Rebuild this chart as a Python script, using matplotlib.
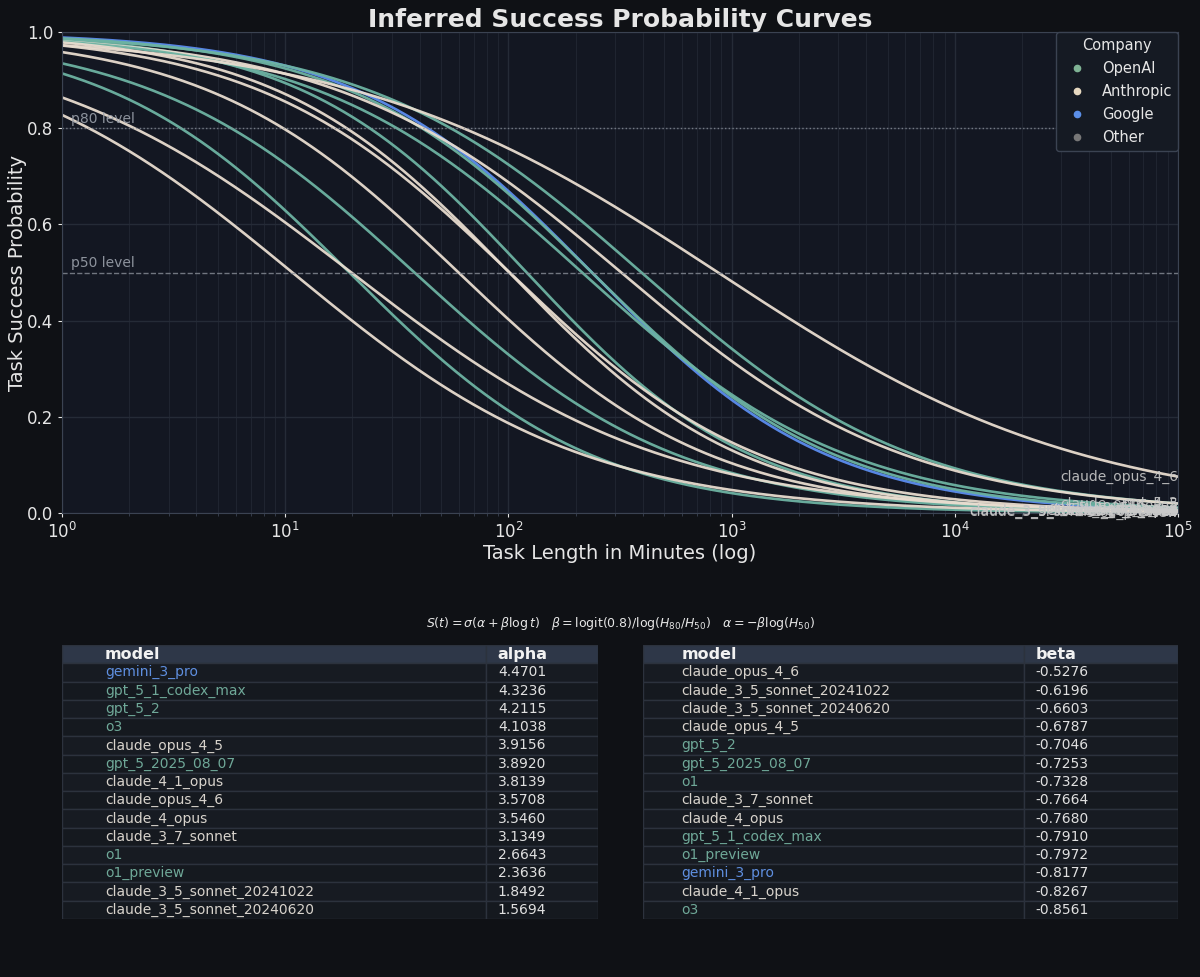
import numpy as np
import matplotlib
matplotlib.use("Agg")
import matplotlib.pyplot as plt
from matplotlib.patches import Rectangle
from matplotlib.lines import Line2D

# ---------------- data ----------------
models = ["gemini_3_pro", "gpt_5_1_codex_max", "gpt_5_2", "o3", "claude_opus_4_5",
          "gpt_5_2025_08_07", "claude_4_1_opus", "claude_opus_4_6", "claude_4_opus",
          "claude_3_7_sonnet", "o1", "o1_preview", "claude_3_5_sonnet_20241022",
          "claude_3_5_sonnet_20240620"]
alpha = [4.4701, 4.3236, 4.2115, 4.1038, 3.9156, 3.8920, 3.8139, 3.5708, 3.5460,
         3.1349, 2.6643, 2.3636, 1.8492, 1.5694]
beta_models = ["claude_opus_4_6", "claude_3_5_sonnet_20241022", "claude_3_5_sonnet_20240620",
               "claude_opus_4_5", "gpt_5_2", "gpt_5_2025_08_07", "o1", "claude_3_7_sonnet",
               "claude_4_opus", "gpt_5_1_codex_max", "o1_preview", "gemini_3_pro",
               "claude_4_1_opus", "o3"]
beta_vals = [-0.5276, -0.6196, -0.6603, -0.6787, -0.7046, -0.7253, -0.7328, -0.7664,
             -0.7680, -0.7910, -0.7972, -0.8177, -0.8267, -0.8561]
companies = {"gemini_3_pro": "Google", "gpt_5_1_codex_max": "OpenAI", "gpt_5_2": "OpenAI",
             "o3": "OpenAI", "claude_opus_4_5": "Anthropic", "gpt_5_2025_08_07": "OpenAI",
             "claude_4_1_opus": "Anthropic", "claude_opus_4_6": "Anthropic",
             "claude_4_opus": "Anthropic", "claude_3_7_sonnet": "Anthropic", "o1": "OpenAI",
             "o1_preview": "OpenAI", "claude_3_5_sonnet_20241022": "Anthropic",
             "claude_3_5_sonnet_20240620": "Anthropic"}
legend_names = ["OpenAI", "Anthropic", "Google", "Other"]

# ---------------- styles ----------------
line_colors = {"OpenAI": "#6db3a3", "Anthropic": "#e8dccf", "Google": "#5b8def", "Other": "#7f7f7f"}
marker_colors = {"OpenAI": "#7fb394", "Anthropic": "#e6d8c0", "Google": "#5b8fe8", "Other": "#777777"}
text_colors = {"OpenAI": "#6fa898", "Anthropic": "#d8d3cc", "Google": "#5f8fe0", "Other": "#999999"}

FIG_BG = "#0f1115"
AX_BG = "#131722"
GRID = "#252b37"
SPINE = "#3b4352"
TXT = "#e6e6e6"

beta = dict(zip(beta_models, beta_vals))

fig = plt.figure(figsize=(12, 9.77), dpi=100, facecolor=FIG_BG)
ax = fig.add_axes([0.0517, 0.4749, 0.93, 0.4923], facecolor=AX_BG)

t = np.logspace(0, 5, 500)
for m, a in zip(models, alpha):
    b = beta[m]
    s = 1.0 / (1.0 + np.exp(-(a + b * np.log(t))))
    ax.plot(t, s, color=line_colors[companies[m]], lw=1.9, alpha=0.95)
for m, a in zip(models, alpha):
    b = beta[m]
    send = 1.0 / (1.0 + np.exp(-(a + b * np.log(1e5))))
    ax.text(1e5, send, m, ha="right", va="center", fontsize=10, color="#c9c9c9", alpha=0.9)

ax.axhline(0.8, color="#8a8f99", ls=":", lw=1, alpha=0.8)
ax.axhline(0.5, color="#8a8f99", ls="--", lw=1, alpha=0.8)
ax.text(1.1, 0.805, "p80 level", color="#9aa0aa", fontsize=10, va="bottom", alpha=0.9)
ax.text(1.1, 0.505, "p50 level", color="#9aa0aa", fontsize=10, va="bottom", alpha=0.9)

ax.set_xscale("log")
ax.set_xlim(1, 1e5)
ax.set_ylim(0, 1)
ax.set_yticks([0, 0.2, 0.4, 0.6, 0.8, 1.0])
ax.grid(True, which="major", color=GRID, lw=1)
ax.grid(True, which="minor", axis="x", color=GRID, lw=0.7, alpha=0.7)
ax.set_axisbelow(True)
for sp in ax.spines.values():
    sp.set_color(SPINE)
ax.tick_params(colors=TXT, labelsize=12, which="major", length=3)
ax.tick_params(colors=SPINE, which="minor", length=2)
ax.set_xlabel("Task Length in Minutes (log)", color=TXT, fontsize=14, labelpad=1)
ax.set_ylabel("Task Success Probability", color=TXT, fontsize=14)
ax.yaxis.set_label_coords(-0.031, 0.5)
ax.set_title("Inferred Success Probability Curves", color=TXT, fontsize=18,
             fontweight="bold", pad=2)

handles = [Line2D([0], [0], marker="o", ls="none", color=marker_colors[c], markersize=4.5,
                  label=c) for c in legend_names]
leg = ax.legend(handles=handles, title="Company", loc="upper right", fontsize=10.5,
                title_fontsize=10.5, facecolor="#151a23", edgecolor="#3b4352",
                labelcolor=TXT, framealpha=1.0, borderaxespad=0.0, handletextpad=0.7,
                labelspacing=0.55)
leg.get_title().set_color(TXT)

fig.text(0.5175, 0.3615,
         r"$S(t)=\sigma(\alpha+\beta\log t)\quad\beta=\mathrm{logit}(0.8)/\log(H_{80}/H_{50})\quad\alpha=-\beta\log(H_{50})$",
         ha="center", va="center", color=TXT, fontsize=9)


def draw_table(rect, names, vals, header, split):
    tax = fig.add_axes(rect)
    tax.set_xlim(0, 1)
    n = len(names) + 1
    tax.set_ylim(n, 0)
    tax.axis("off")
    row_bg = ["#15191f", "#171b22"]
    for r in range(n):
        fc = "#2e3748" if r == 0 else row_bg[r % 2]
        tax.add_patch(Rectangle((0, r), split, 1, facecolor=fc, edgecolor="#2c323d", lw=1))
        tax.add_patch(Rectangle((split, r), 1 - split, 1, facecolor=fc, edgecolor="#2c323d", lw=1))
    pad1 = 0.08 if split > 0.75 else 0.072
    tax.text(pad1, 0.5, "model", color="#f2f2f2", fontsize=11.5, fontweight="bold",
             va="center", ha="left")
    tax.text(split + 0.022, 0.5, header, color="#f2f2f2", fontsize=11.5, fontweight="bold",
             va="center", ha="left")
    for i, (m, v) in enumerate(zip(names, vals)):
        tax.text(pad1, i + 1.5, m, color=text_colors[companies[m]], fontsize=10,
                 va="center", ha="left")
        tax.text(split + 0.022, i + 1.5, f"{v:.4f}", color="#e0e0e0", fontsize=10,
                 va="center", ha="left")


draw_table([0.0517, 0.0594, 0.4467, 0.2804], models, alpha, "alpha", 0.791)
draw_table([0.5358, 0.0594, 0.4458, 0.2804], beta_models, beta_vals, "beta", 0.712)

fig.savefig("out.png", dpi=100, facecolor=FIG_BG)
